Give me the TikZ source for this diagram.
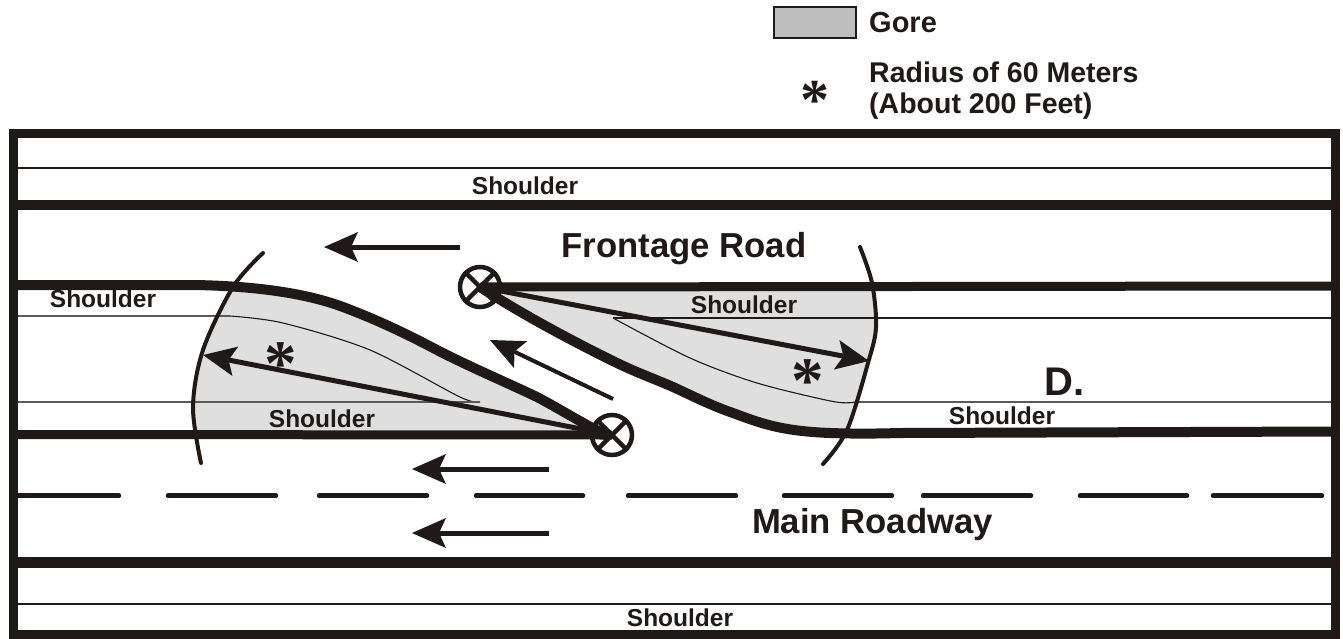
\documentclass[tikz,border=0pt]{standalone}
\usepackage{fontspec}
\setmainfont{Liberation Sans}
\newfontfamily\starfont{Liberation Serif}
\usetikzlibrary{arrows.meta}
\definecolor{ink}{HTML}{1F1A17}
\definecolor{gorefill}{HTML}{DEDFDE}
\definecolor{legendfill}{HTML}{BEBEBE}
\definecolor{lanegray}{HTML}{5A5A5A}
\newcommand{\fsz}[1]{\fontsize{#1}{#1}\selectfont\bfseries}
\newcommand{\leftcurve}{(195,285) .. controls (250,286) and (303,292) .. (343,307) .. controls (375,319) and (405,333) .. (437,350) .. controls (470,367) and (510,384) .. (537,397) .. controls (560,409) and (585,425) .. (610,437)}
\newcommand{\rightcurve}{(480,287) .. controls (520,313) and (570,340) .. (617,363) .. controls (640,374) and (655,379) .. (673,387) .. controls (695,397) and (710,405) .. (733,413) .. controls (760,423) and (780,431) .. (830,433) .. controls (860,434) and (880,433.5) .. (900,433)}
\tikzset{
  x=1pt,y=-1pt,
  thick road/.style={draw=ink,line width=9pt,line join=round},
  thin road/.style={draw=ink,line width=1.1pt},
  gray lane/.style={draw=lanegray,line width=1.2pt},
  arc line/.style={draw=ink,line width=4pt,line cap=round},
  flow/.style={draw=ink,line width=5pt,-{Stealth[length=34pt,width=30pt,inset=7pt,line width=0pt]}},
  radius arrow/.style={draw=ink,line width=5pt,-{Stealth[length=33pt,width=30pt,inset=7pt,line width=0pt]}},
  marker/.style={circle,draw=ink,line width=4.5pt,fill=white,minimum size=40pt,inner sep=0pt},
  lab/.style={anchor=base,text=ink,inner sep=0pt},
  shoulder/.style={lab,font=\fsz{24.5}},
  big/.style={lab,font=\fsz{34.7}},
  starmark/.style={text=ink,inner sep=0pt,font=\starfont\bfseries\fontsize{#1}{#1}\selectfont},
}
\begin{document}
\begin{tikzpicture}
\useasboundingbox (0,0) rectangle (1343,638);
% gore fills
\fill[gorefill] plot[smooth,tension=.55] coordinates {(233,287)(203,350)(193,407)(195,434)}
  -- (600,434) -- (610,437)
  .. controls (585,425) and (560,409) .. (537,397) .. controls (510,384) and (470,367) .. (437,350) .. controls (405,333) and (375,319) .. (343,307) .. controls (303,292) and (250,286) .. (233,285) -- cycle;
\fill[gorefill] \rightcurve -- (847,433)
  -- plot[smooth,tension=.55] coordinates {(847,432)(868,363)(876,327)(872,287)} -- cycle;
% thin lane lines
\draw[thin road] (18,168) -- (1331,168);
\draw[thin road] (18,604) -- (1331,604);
\draw[thin road] plot[smooth,tension=.5] coordinates {(230,316)(283,323)(370,350)(460,397)(480,402)};
\draw[gray lane] (18,316) -- (230,316);
\draw[gray lane] (18,402) -- (480,402);
\draw[thin road] (613,318) -- (1331,318);
\draw[thin road] plot[smooth,tension=.5] coordinates {(613,318)(690,358)(757,383)(833,401.5)(855,402)};
\draw[gray lane] (855,402) -- (1331,402);
% heavy road lines
\draw[thick road,line width=10pt] (18,205) -- (1331,205);
\draw[thick road,line width=10.5pt] (18,562.5) -- (1331,562.5);
\node[marker] (mleft) at (612,435) {};
\node[marker] (mright) at (480,287) {};
\draw[ink,line width=4.5pt] (mleft.45) -- (mleft.225) (mleft.135) -- (mleft.315);
\draw[ink,line width=4.5pt] (mright.45) -- (mright.225) (mright.135) -- (mright.315);
\draw[thick road] (18,434.5) -- (mleft.center);
\draw[thick road,line width=10pt] (18,285) -- \leftcurve;
\draw[thick road] (mright.center) -- (1331,286);
\draw[thick road,line width=10pt] \rightcurve -- (1331,431.5);
% centre dashes
\foreach \a/\b in {18/119,168/276,319/427,476/583,628/736,784/892,923/1031,1080/1187,1213/1322}
  \draw[ink,line width=4.5pt,line cap=round] (\a,495.7) -- (\b,495.7);
% outer frame
\draw[ink,line width=9pt] (13.5,133.5) rectangle (1335.5,634.5);
% radius arcs
\draw[arc line] plot[smooth,tension=.55] coordinates {(263,253)(233,287)(203,350)(193,407)(201,463)};
\draw[arc line] plot[smooth,tension=.55] coordinates {(860,247)(872,283)(876,327)(868,363)(847,430)(823,464)};
% radius arrows
\coordinate (tipl) at (203,355);
\coordinate (tipr) at (869,361);
\draw[radius arrow] (mleft.center) -- (tipl);
\draw[radius arrow] (mright.center) -- (tipr);
% traffic arrows
\coordinate (a1s) at (460,247); \coordinate (a1e) at (324,247);
\coordinate (a2s) at (613,399); \coordinate (a2e) at (490,340);
\coordinate (a3s) at (549,469); \coordinate (a3e) at (412,469);
\coordinate (a4s) at (549,533); \coordinate (a4e) at (412,533);
\draw[flow] (a1s) -- (a1e);
\draw[flow,line width=4pt] (a2s) -- (a2e);
\draw[flow] (a3s) -- (a3e);
\draw[flow] (a4s) -- (a4e);
% stars
\node[starmark=65] (s1) at (281,364) {*};
\node[starmark=65] (s2) at (808,381) {*};
\node[starmark=58] (s3) at (815,100) {*};
% labels
\node[shoulder] (t1) at (525,194) {Shoulder};
\node[shoulder] (t2) at (103,307) {Shoulder};
\node[shoulder] (t3) at (322,427) {Shoulder};
\node[shoulder] (t4) at (744,313) {Shoulder};
\node[shoulder] (t5) at (1002,424) {Shoulder};
\node[shoulder] (t6) at (680,626) {Shoulder};
\node[big] (fr) at (684,257) {Frontage Road};
\node[big] (mr) at (872.5,533) {Main Roadway};
\node[lab,font=\fsz{40}] (d) at (1064.5,395) {D.};
% legend
\node[draw=ink,line width=1.3pt,fill=legendfill,minimum width=82pt,minimum height=31pt,inner sep=0pt] (lg) at (815,22.5) {};
\node[lab,anchor=base west,font=\fsz{29}] (lgt) at (869,32) {Gore};
\node[lab,anchor=base west,align=left,font=\fontsize{28.5}{31}\selectfont\bfseries] (lrt) at (869,113) {Radius of 60 Meters\\(About 200 Feet)};
\end{tikzpicture}
\end{document}
